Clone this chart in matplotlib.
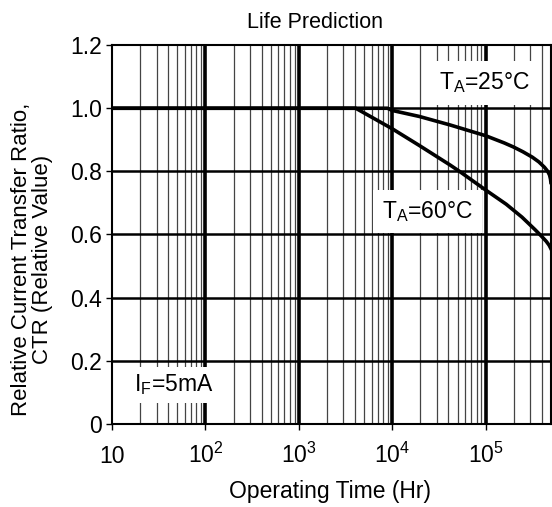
import matplotlib
matplotlib.use("Agg")
import matplotlib.pyplot as plt

plt.rcParams["font.family"] = ["Liberation Sans", "DejaVu Sans"]
plt.rcParams["mathtext.fontset"] = "custom"
plt.rcParams["mathtext.rm"] = "Liberation Sans"
plt.rcParams["mathtext.it"] = "Liberation Sans:italic"
plt.rcParams["mathtext.bf"] = "Liberation Sans:bold"

# values (hours, relative CTR)
t_25 = [10, 8900, 10000, 19500, 41700, 100000, 158500, 199500, 251200, 316200, 371500,
        426600, 462400, 484200, 495500, 500000]
ctr_25 = [1.0, 1.0, 0.993, 0.974, 0.947, 0.913, 0.89, 0.877, 0.862, 0.845, 0.83,
          0.813, 0.80, 0.788, 0.775, 0.765]
t_60 = [10, 4070, 10000, 19500, 41700, 52500, 100000, 166000, 245000, 339000, 398100,
        446700, 478600, 500000]
ctr_60 = [1.0, 1.0, 0.935, 0.882, 0.82, 0.80, 0.741, 0.696, 0.655, 0.615, 0.594,
          0.578, 0.566, 0.555]
x_ticks = [10, 100, 1000, 10000, 100000]
x_labels = ["10", "$10^2$", "$10^3$", "$10^4$", "$10^5$"]
y_ticks = [0, 0.2, 0.4, 0.6, 0.8, 1.0, 1.2]
y_labels = ["0", "0.2", "0.4", "0.6", "0.8", "1.0", "1.2"]

FS = 16.5

fig = plt.figure(figsize=(5.52, 5.07), dpi=100)
ax = fig.add_axes([0.203, 0.164, 0.795, 0.747])
ax.set_xscale("log")
ax.set_xlim(10, 5e5)
ax.set_ylim(0, 1.2)

# grid: thin minor verticals, thick decades, thick horizontals
for dec in [10, 100, 1000, 10000, 100000]:
    for m in range(2, 10):
        if dec * m < 5e5:
            ax.axvline(dec * m, color="#444444", lw=0.9, zorder=1)
for v in x_ticks[1:]:
    ax.axvline(v, color="black", lw=2.6, zorder=1)
for v in y_ticks[1:-1]:
    ax.axhline(v, color="black", lw=1.8, zorder=1)

ax.plot(t_25, ctr_25, color="black", lw=2.6, zorder=3, solid_joinstyle="round")
ax.plot(t_60, ctr_60, color="black", lw=2.6, zorder=3, solid_joinstyle="round")

box = dict(boxstyle="square,pad=0.4", facecolor="white", edgecolor="none")
ax.text(9.8e4, 1.08, "T$_\\mathregular{A}$=25°C", fontsize=FS, ha="center", va="center", bbox=box, zorder=4)
ax.text(2.4e4, 0.672, "T$_\\mathregular{A}$=60°C", fontsize=FS, ha="center", va="center", bbox=box, zorder=4)
ax.text(46, 0.124, "I$_\\mathregular{F}$=5mA", fontsize=FS, ha="center", va="center",
        bbox=dict(boxstyle="square,pad=0.25", facecolor="white", edgecolor="none"), zorder=4)

ax.set_xticks(x_ticks)
ax.set_xticklabels(x_labels)
ax.xaxis.set_minor_locator(matplotlib.ticker.NullLocator())
ax.set_yticks(y_ticks)
ax.set_yticklabels(y_labels)
ax.tick_params(direction="out", length=4, width=1, labelsize=FS)
ax.tick_params(axis="y", pad=3)
ax.tick_params(axis="x", pad=24)
for lab in ax.get_xticklabels():
    lab.set_va("baseline")
for s in ax.spines.values():
    s.set_linewidth(1.5)

ax.set_xlabel("Operating Time (Hr)", fontsize=FS)
ax.xaxis.set_label_coords(0.497, -0.148)
ax.set_ylabel("Relative Current Transfer Ratio,\nCTR (Relative Value)", fontsize=16, linespacing=1.0)
ax.yaxis.set_label_coords(-0.134, 0.433)
ax.set_title("Life Prediction", fontsize=15.5, x=0.462, pad=12)

fig.savefig("out.png", dpi=100)
